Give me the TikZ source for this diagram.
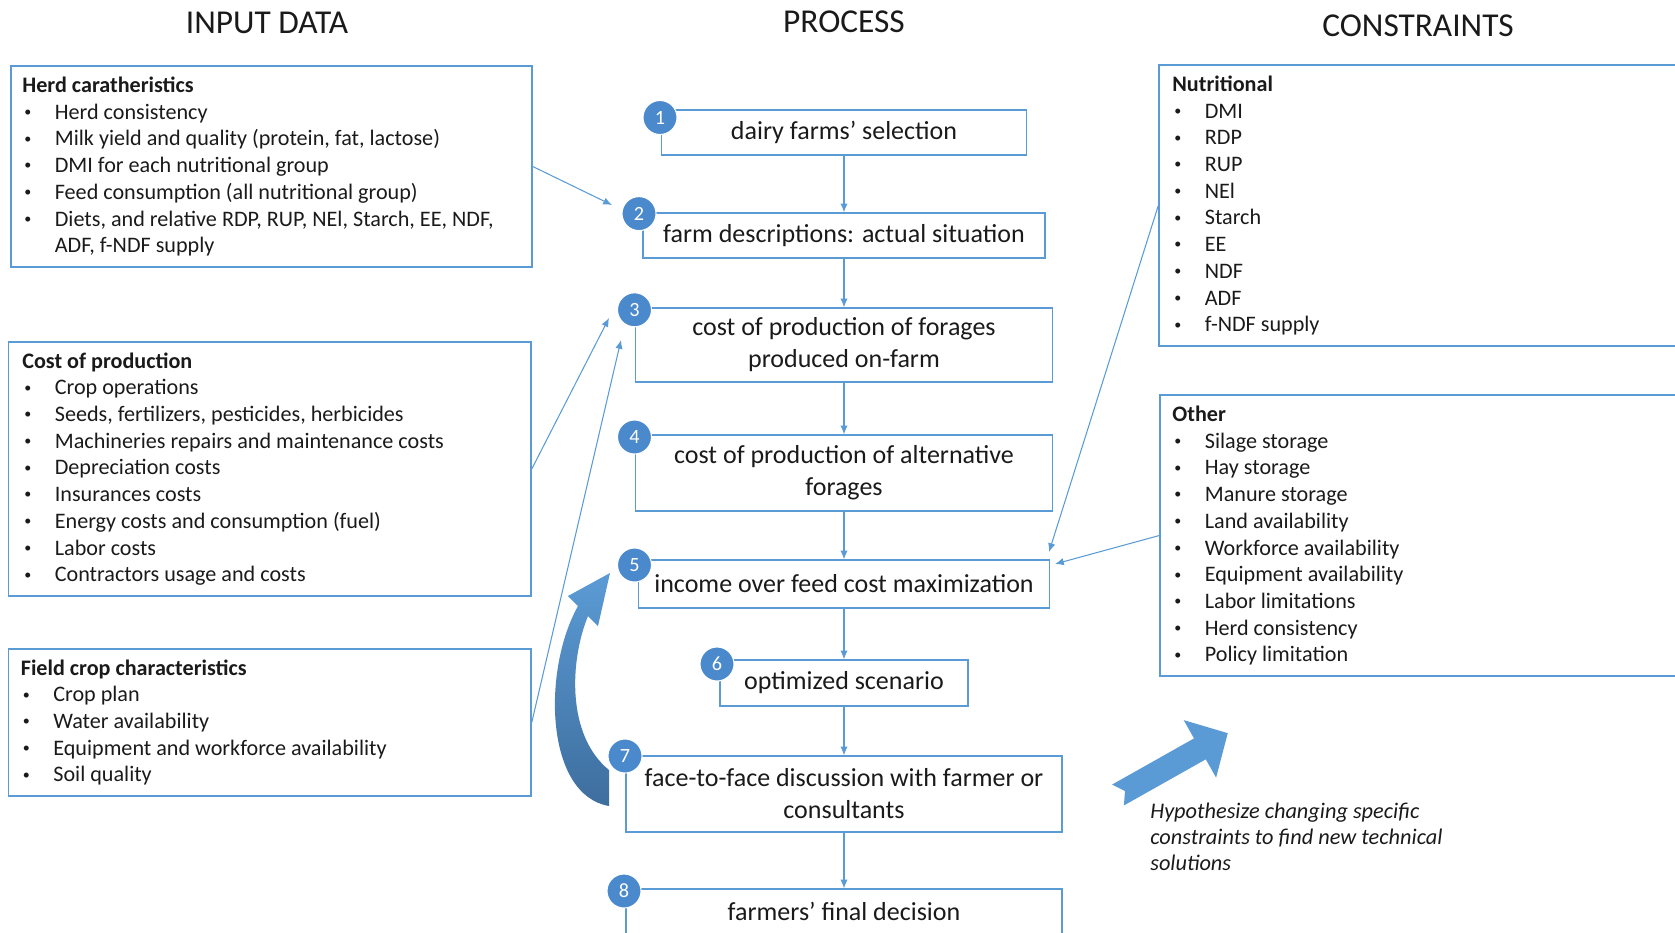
\documentclass[tikz,border=0pt]{standalone}
\usepackage{fontspec}
\setmainfont{Carlito}
\usetikzlibrary{arrows.meta}

\definecolor{boxblue}{HTML}{5B9BD5}
\definecolor{numblue}{HTML}{4A89CC}
\definecolor{arrowblue}{HTML}{5B9BD5}
\definecolor{darkblue}{HTML}{3E6E9E}
\definecolor{textgray}{HTML}{1A1A1A}

\newcommand{\listfnt}{\fontsize{12.6}{15.2}\selectfont}
\newcommand{\stepfnt}{\fontsize{14.8}{18.2}\selectfont}
\newcommand{\headfnt}{\fontsize{19}{23}\selectfont}
\newcommand{\numfnt}{\fontsize{11.5}{13}\selectfont}
\newcommand{\notefnt}{\fontsize{12.7}{14.8}\selectfont\itshape}
\newcommand{\bitem}[1]{\strut\makebox[6.5mm][l]{\hspace{0.4mm}\raisebox{0.25ex}{\fontsize{8}{8}\selectfont\textbullet}}#1}

\tikzset{
    header/.style={font=\headfnt, text=textgray},
    stepbox/.style={draw=boxblue, line width=0.8pt, align=center, inner sep=0pt, font=\stepfnt, text=textgray},
    stepnum/.style={circle, fill=numblue, draw=white, line width=0.6pt, minimum size=6.8mm, inner sep=0pt, text=white, font=\numfnt},
    listbox/.style={draw=boxblue, line width=0.8pt},
    listtext/.style={anchor=north west, inner sep=0pt, align=left, font=\listfnt, text=textgray},
    link/.style={draw=boxblue, line width=0.6pt, -{Latex[length=5pt,width=4.2pt]}}
}

\begin{document}
\begin{tikzpicture}[x=0.2mm, y=-0.2mm]
    \useasboundingbox (0,0) rectangle (1675,932);

    % Column headings
    \node[header] (hin) at (267,23) {INPUT DATA};
    \node[header] (hproc) at (844,22) {PROCESS};
    \node[header] (hcon) at (1418,26) {CONSTRAINTS};

    % Input data boxes
    \node[listbox, minimum width=104.2mm, minimum height=40.2mm] (herd) at (271.5,166.5) {};
    \node[listtext] (herdtxt) at (22,73.4)
        {\strut\textbf{Herd caratheristics}\\
         \bitem{Herd consistency}\\
         \bitem{Milk yield and quality (protein, fat, lactose)}\\
         \bitem{DMI for each nutritional group}\\
         \bitem{Feed consumption (all nutritional group)}\\
         \bitem{Diets, and relative RDP, RUP, NEl, Starch, EE, NDF,}\\
         \strut\hspace*{6.5mm}ADF, f-NDF supply};
    \node[listbox, minimum width=104.5mm, minimum height=50.8mm] (cost) at (269.8,469) {};
    \node[listtext] (costtxt) at (22,349)
        {\strut\textbf{Cost of production}\\
         \bitem{Crop operations}\\
         \bitem{Seeds, fertilizers, pesticides, herbicides}\\
         \bitem{Machineries repairs and maintenance costs}\\
         \bitem{Depreciation costs}\\
         \bitem{Insurances costs}\\
         \bitem{Energy costs and consumption (fuel)}\\
         \bitem{Labor costs}\\
         \bitem{Contractors usage and costs}};
    \node[listbox, minimum width=104.5mm, minimum height=29.4mm] (field) at (269.8,722.5) {};
    \node[listtext] (fieldtxt) at (20.5,656)
        {\strut\textbf{Field crop characteristics}\\
         \bitem{Crop plan}\\
         \bitem{Water availability}\\
         \bitem{Equipment and workforce availability}\\
         \bitem{Soil quality}};

    % Constraint boxes
    \node[listbox, minimum width=106.2mm, minimum height=56.2mm] (nutri) at (1424.5,205.5) {};
    \node[listtext] (nutritxt) at (1172,72.3)
        {\strut\textbf{Nutritional}\\
         \bitem{DMI}\\ \bitem{RDP}\\ \bitem{RUP}\\ \bitem{NEl}\\ \bitem{Starch}\\
         \bitem{EE}\\ \bitem{NDF}\\ \bitem{ADF}\\ \bitem{f-NDF supply}};
    \node[listbox, minimum width=106mm, minimum height=56.2mm] (other) at (1425,535.5) {};
    \node[listtext] (othertxt) at (1172,402.4)
        {\strut\textbf{Other}\\
         \bitem{Silage storage}\\
         \bitem{Hay storage}\\
         \bitem{Manure storage}\\
         \bitem{Land availability}\\
         \bitem{Workforce availability}\\
         \bitem{Equipment availability}\\
         \bitem{Labor limitations}\\
         \bitem{Herd consistency}\\
         \bitem{Policy limitation}};

    % Process steps
    \node[stepbox, minimum width=73mm, minimum height=9mm] (b1) at (844,132.5) {dairy farms’ selection};
    \node[stepbox, minimum width=80.4mm, minimum height=9mm] (b2) at (844,235.5) {farm descriptions: actual situation};
    \node[stepbox, minimum width=83.4mm, minimum height=14.8mm] (b3) at (844,345) {cost of production of forages\\produced on-farm};
    \node[stepbox, minimum width=83.4mm, minimum height=15.2mm] (b4) at (844,473) {cost of production of alternative\\forages};
    \node[stepbox, minimum width=82.2mm, minimum height=9.6mm] (b5) at (844,584) {income over feed cost maximization};
    \node[stepbox, minimum width=49.6mm, minimum height=9.2mm] (b6) at (844,683) {optimized scenario};
    \node[stepbox, minimum width=87.2mm, minimum height=15.2mm] (b7) at (844,794) {face-to-face discussion with farmer or\\consultants};
    \node[stepbox, minimum width=87.2mm, minimum height=9mm] (b8) at (844,911.5) {farmers’ final decision};

    % Step numbers
    \node[stepnum] (n1) at (660,117.5) {1};
    \node[stepnum] (n2) at (639,213.6) {2};
    \node[stepnum] (n3) at (634.5,309.8) {3};
    \node[stepnum] (n4) at (634.5,437) {4};
    \node[stepnum] (n5) at (634.5,565) {5};
    \node[stepnum] (n6) at (717,664) {6};
    \node[stepnum] (n7) at (625,756) {7};
    \node[stepnum] (n8) at (624,891) {8};

    % Flow between steps
    \draw[link] (b1) -- (b2);
    \draw[link] (b2) -- (b3);
    \draw[link] (b3) -- (b4);
    \draw[link] (b4) -- (b5);
    \draw[link] (b5) -- (b6);
    \draw[link] (b6) -- (b7);
    \draw[link] (b7) -- (b8);

    % Inputs and constraints feeding the steps
    \coordinate (in2) at (612,205);
    \coordinate (in3a) at (609,318);
    \coordinate (in3b) at (621,340);
    \coordinate (in5a) at (1049,552);
    \coordinate (in5b) at (1055,564);
    \draw[link] (herd.east) -- (in2);
    \draw[link] (cost.east) -- (in3a);
    \draw[link] (field.east) -- (in3b);
    \draw[link] (nutri.west) -- (in5a);
    \draw[link] (other.west) -- (in5b);

    % Feedback arrow from step 7 back to step 5
    \shade[top color=arrowblue, bottom color=darkblue]
        (609,806) .. controls (545,795) and (542,670) .. (578,606)
        -- (568,596) -- (610,573) -- (598,626) -- (588,616)
        .. controls (570,660) and (566,735) .. (609,770) -- cycle;

    % Block arrow and note
    \begin{scope}[shift={(1118,795)}, rotate=29.4]
        \fill[arrowblue] (0,-12) -- (94,-12) -- (94,-33) -- (126,0)
            -- (94,33) -- (94,12) -- (0,12) -- (8,0) -- cycle;
    \end{scope}
    \node[listtext, font=\notefnt] (note) at (1150,800)
        {\strut Hypothesize changing specific\\
         \strut constraints to find new technical\\
         \strut solutions};
\end{tikzpicture}
\end{document}
